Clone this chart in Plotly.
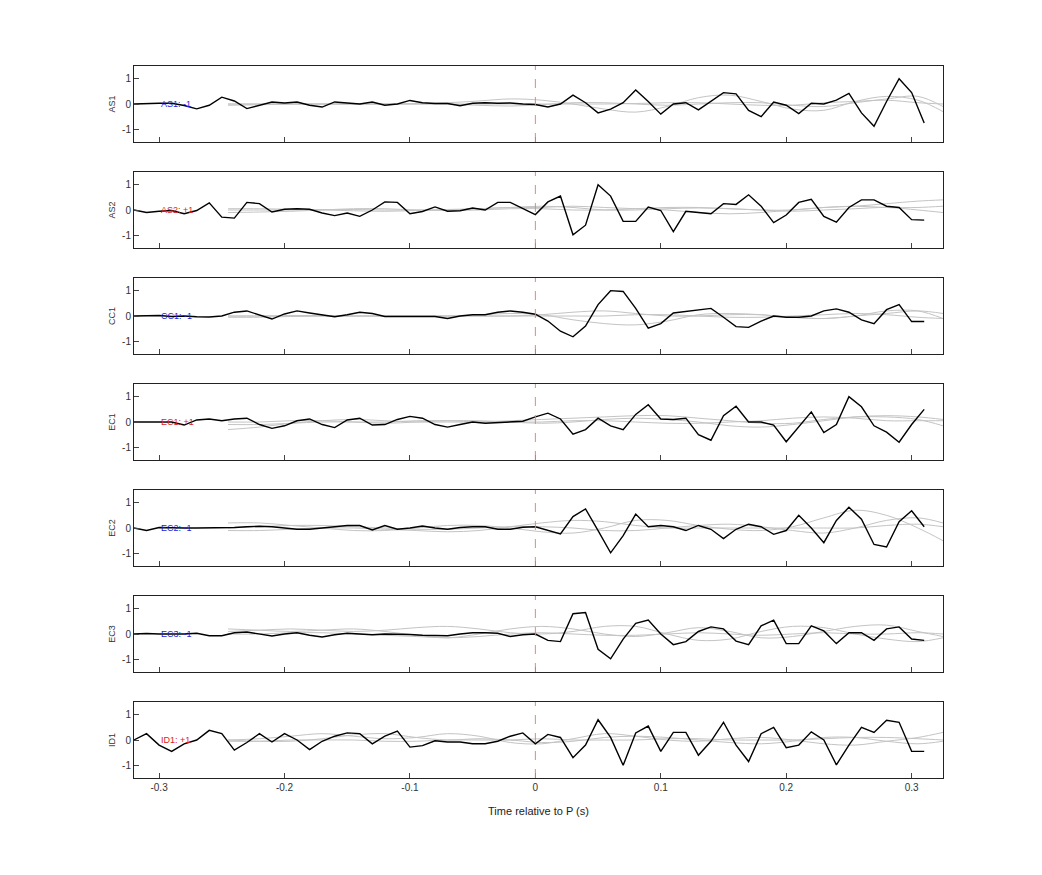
import plotly.graph_objects as go
from plotly.subplots import make_subplots

# time axis for the black traces (s)
t = [round(-0.32 + 0.01 * i, 2) for i in range(64)]

stations = ["AS1", "AS2", "CC1", "EC1", "EC2", "EC3", "ID1"]
polarity = ["-1", "+1", "-1", "+1", "-1", "-1", "+1"]

xticks = [-0.3, -0.2, -0.1, 0, 0.1, 0.2, 0.3]
xticklabels = ["-0.3", "-0.2", "-0.1", "0", "0.1", "0.2", "0.3"]
yticks = [-1, 0, 1]
yticklabels = ["-1", "0", "1"]

as1 = [0.0, 0.02, 0.03, 0.03, -0.06, -0.19, -0.05, 0.27, 0.12, -0.18, -0.05, 0.08, 0.04, 0.08, -0.05, -0.12,
       0.08, 0.03, 0.0, 0.08, -0.05, 0.0, 0.14, 0.05, 0.02, 0.02, -0.07, 0.03, 0.05, 0.03, 0.04, 0.0,
       -0.02, -0.12, 0.0, 0.35, 0.05, -0.35, -0.2, 0.05, 0.55, 0.1, -0.4, 0.0, 0.05, -0.23, 0.1, 0.45,
       0.4, -0.25, -0.5, 0.08, -0.05, -0.38, 0.03, 0.0, 0.15, 0.42, -0.35, -0.88, 0.1, 1.0, 0.45, -0.75]
as2 = [0.0, -0.1, -0.05, -0.02, -0.15, -0.02, 0.28, -0.28, -0.32, 0.3, 0.25, -0.08, 0.03, 0.05, 0.03, -0.12,
       -0.22, -0.12, -0.25, 0.0, 0.32, 0.3, -0.15, -0.06, 0.12, -0.05, -0.03, 0.08, 0.0, 0.3, 0.3, 0.05,
       -0.18, 0.32, 0.55, -0.98, -0.6, 1.0, 0.55, -0.45, -0.45, 0.12, -0.02, -0.85, -0.05, -0.1, -0.15, 0.25,
       0.22, 0.6, 0.15, -0.5, -0.2, 0.3, 0.42, -0.25, -0.48, 0.1, 0.4, 0.4, 0.15, 0.1, -0.38, -0.4]
cc1 = [0.0, 0.0, 0.02, -0.02, 0.0, -0.03, -0.04, 0.0, 0.15, 0.2, 0.05, -0.12, 0.08, 0.2, 0.12, 0.03,
       -0.03, 0.05, 0.15, 0.1, -0.02, -0.02, -0.02, 0.0, -0.02, -0.1, 0.0, 0.05, 0.05, 0.15, 0.2, 0.15,
       0.07, -0.2, -0.6, -0.82, -0.4, 0.45, 1.0, 0.97, 0.3, -0.48, -0.3, 0.12, 0.18, 0.23, 0.3, -0.05,
       -0.42, -0.45, -0.2, 0.0, -0.05, -0.05, 0.0, 0.2, 0.28, 0.15, -0.15, -0.3, 0.25, 0.45, -0.22, -0.22]
ec1 = [0.0, 0.0, 0.02, 0.0, -0.12, 0.08, 0.12, 0.05, 0.12, 0.15, -0.1, -0.25, -0.15, 0.05, 0.12, -0.1,
       -0.22, 0.08, 0.15, -0.12, -0.1, 0.1, 0.22, 0.15, -0.1, -0.2, -0.1, 0.0, -0.05, -0.03, 0.0, 0.03,
       0.2, 0.35, 0.12, -0.48, -0.3, 0.15, -0.15, -0.3, 0.3, 0.68, 0.12, 0.1, 0.15, -0.5, -0.72, 0.25,
       0.62, 0.0, 0.0, -0.12, -0.78, -0.2, 0.4, -0.42, -0.1, 1.0, 0.6, -0.15, -0.4, -0.8, -0.1, 0.5]
ec2 = [0.0, -0.1, 0.02, 0.0, 0.0, 0.0, 0.0, 0.0, 0.02, 0.05, 0.07, 0.05, 0.0, -0.05, -0.05, 0.0,
       0.07, 0.1, 0.1, -0.08, 0.1, -0.05, 0.0, 0.08, 0.0, -0.05, 0.02, 0.05, 0.05, -0.05, -0.05, 0.03,
       0.05, -0.1, -0.23, 0.45, 0.75, -0.1, -0.98, -0.3, 0.55, 0.05, 0.1, 0.05, -0.1, 0.1, -0.05, -0.42,
       -0.05, 0.15, 0.05, -0.25, -0.1, 0.5, 0.0, -0.58, 0.3, 0.82, 0.35, -0.65, -0.75, 0.25, 0.68, 0.05]
ec3 = [0.0, 0.02, 0.0, 0.0, 0.0, 0.03, -0.07, -0.07, 0.05, 0.08, 0.0, -0.08, 0.0, 0.05, -0.05, -0.12,
       -0.03, 0.03, 0.0, -0.03, 0.0, 0.0, -0.02, -0.05, -0.05, -0.07, 0.0, 0.05, 0.05, 0.03, -0.1, -0.03,
       0.0, -0.25, -0.3, 0.8, 0.85, -0.6, -0.98, -0.2, 0.42, 0.55, 0.0, -0.42, -0.3, 0.1, 0.28, 0.2,
       -0.28, -0.42, 0.32, 0.55, -0.38, -0.38, 0.32, 0.12, -0.38, 0.05, 0.05, -0.25, 0.2, 0.28, -0.2, -0.25]
id1 = [0.0, 0.25, -0.2, -0.45, -0.15, 0.0, 0.38, 0.25, -0.4, -0.1, 0.25, -0.08, 0.25, 0.0, -0.38, -0.05,
       0.15, 0.28, 0.25, -0.15, 0.15, 0.35, -0.28, -0.22, -0.03, -0.08, -0.08, -0.15, -0.15, -0.05, 0.15, 0.28,
       -0.15, 0.22, 0.1, -0.7, -0.2, 0.8, 0.1, -1.0, 0.28, 0.55, -0.45, 0.3, 0.3, -0.6, -0.05, 0.7,
       -0.2, -0.85, 0.25, 0.5, -0.3, -0.2, 0.32, 0.0, -0.98, -0.2, 0.5, 0.3, 0.78, 0.7, -0.45, -0.45]
black = [as1, as2, cc1, ec1, ec2, ec3, id1]

# smooth grey synthetics, sampled every 0.025 s
tg = [round(-0.245 + 0.025 * i, 3) for i in range(23)] + [0.325]
grey = [
    [[0.0, 0.0, 0.0, 0.0, 0.0, 0.0, 0.02, 0.05, 0.12, 0.2, 0.15, 0.0, -0.2, -0.32, -0.1, 0.25, 0.35, 0.1, -0.2, -0.25, 0.1, 0.3, 0.15, -0.3, 0.5],
     [0.0, 0.0, 0.0, 0.0, 0.0, 0.0, 0.0, 0.0, -0.05, -0.08, -0.03, 0.05, 0.05, 0.0, -0.05, 0.0, 0.05, 0.05, -0.05, -0.1, 0.05, 0.2, 0.3, -0.1, 0.1],
     [-0.05, -0.03, 0.0, 0.0, 0.0, 0.0, 0.0, 0.0, 0.0, 0.0, 0.0, 0.0, 0.0, 0.02, 0.05, 0.05, 0.0, -0.05, -0.05, 0.05, 0.1, 0.15, 0.05, 0.0, 0.05]],
    [[-0.1, -0.08, -0.05, 0.0, 0.05, 0.05, 0.0, 0.0, 0.05, 0.1, 0.1, 0.15, 0.1, 0.05, 0.0, -0.1, -0.15, -0.1, 0.0, 0.1, 0.15, 0.25, 0.35, 0.4, 0.4],
     [0.0, 0.0, 0.0, 0.02, 0.02, 0.0, 0.0, -0.02, 0.0, 0.05, 0.05, 0.0, 0.0, 0.05, 0.1, 0.1, 0.05, 0.0, -0.05, 0.0, 0.05, 0.1, 0.0, -0.1, -0.2],
     [0.05, 0.05, 0.03, 0.0, -0.03, -0.05, -0.02, 0.02, 0.05, 0.1, 0.15, 0.1, 0.0, 0.0, 0.05, 0.08, 0.05, 0.0, 0.0, 0.1, 0.15, 0.1, 0.1, 0.15, 0.1]],
    [[0.0, 0.0, 0.0, 0.0, 0.0, 0.0, 0.0, 0.0, 0.05, 0.1, 0.05, -0.15, -0.3, -0.35, -0.2, 0.05, 0.1, 0.05, -0.05, -0.1, 0.0, 0.2, 0.2, -0.1, -0.3],
     [0.0, 0.0, 0.02, 0.02, 0.0, 0.0, 0.0, 0.0, 0.0, 0.0, 0.05, 0.15, 0.2, 0.1, 0.0, 0.0, 0.05, 0.05, -0.05, -0.1, 0.0, 0.1, 0.2, 0.1, 0.5],
     [-0.05, -0.05, -0.02, 0.0, 0.0, 0.0, 0.0, 0.0, 0.0, 0.0, 0.0, 0.0, 0.0, 0.05, 0.05, 0.0, -0.05, -0.05, 0.0, 0.05, 0.1, 0.05, -0.05, -0.1, 0.05]],
    [[-0.3, -0.2, -0.05, 0.05, 0.1, 0.05, 0.0, 0.0, 0.0, 0.05, 0.1, 0.15, 0.2, 0.25, 0.25, 0.15, 0.05, -0.05, -0.05, 0.1, 0.2, 0.2, 0.1, -0.15, -0.3],
     [0.0, 0.0, 0.05, 0.05, 0.0, -0.05, 0.0, 0.05, 0.05, 0.0, -0.05, 0.0, 0.1, 0.15, 0.1, 0.0, -0.15, -0.2, -0.1, 0.05, 0.2, 0.25, 0.2, 0.1, 0.0],
     [-0.1, -0.1, -0.05, 0.0, 0.0, 0.0, 0.05, 0.05, 0.0, 0.0, 0.0, 0.05, 0.05, 0.0, -0.05, -0.05, 0.0, 0.05, 0.15, 0.2, 0.15, 0.05, 0.05, 0.05, 0.05]],
    [[0.2, 0.2, 0.1, 0.0, -0.1, -0.1, 0.0, 0.1, 0.1, 0.0, -0.15, -0.2, 0.0, 0.3, 0.3, 0.1, -0.05, -0.1, 0.05, 0.4, 0.7, 0.5, 0.0, -0.5, -0.55],
     [0.0, 0.05, 0.1, 0.1, 0.05, 0.0, -0.05, -0.05, 0.0, 0.05, 0.05, 0.0, -0.1, -0.1, 0.0, 0.1, 0.15, 0.05, -0.1, -0.2, 0.0, 0.3, 0.4, 0.2, -0.1],
     [-0.1, -0.1, -0.05, 0.0, 0.0, -0.05, -0.1, -0.15, -0.1, 0.05, 0.2, 0.3, 0.25, 0.1, 0.0, 0.0, 0.0, 0.0, 0.0, 0.0, 0.0, 0.1, 0.15, 0.05, 0.0]],
    [[0.2, 0.15, 0.1, 0.15, 0.2, 0.1, -0.05, -0.15, 0.0, 0.2, 0.3, 0.2, 0.0, -0.1, 0.05, 0.25, 0.1, -0.15, -0.1, 0.1, 0.3, 0.35, 0.1, -0.1, -0.1],
     [0.1, 0.15, 0.2, 0.15, 0.1, 0.15, 0.25, 0.3, 0.2, 0.05, 0.0, 0.1, 0.3, 0.3, 0.0, -0.25, -0.2, 0.1, 0.3, 0.25, 0.0, -0.2, -0.3, -0.15, 0.0],
     [0.0, 0.0, 0.05, 0.05, 0.0, -0.05, -0.1, -0.15, -0.1, 0.0, 0.05, 0.0, -0.05, -0.05, 0.0, 0.05, 0.0, -0.05, 0.0, 0.05, 0.0, 0.0, 0.05, 0.0, 0.05]],
    [[0.0, 0.05, 0.15, 0.25, 0.15, 0.05, 0.1, 0.25, 0.15, -0.1, -0.15, 0.05, 0.25, 0.15, 0.0, -0.05, 0.05, 0.1, 0.0, -0.15, -0.2, -0.05, 0.1, 0.3, 0.2],
     [0.0, -0.05, -0.05, 0.05, 0.2, 0.25, 0.1, 0.0, 0.05, 0.0, -0.1, -0.05, 0.1, 0.15, 0.1, 0.0, -0.1, -0.15, -0.05, 0.1, 0.1, -0.05, -0.15, -0.05, 0.1],
     [-0.05, -0.05, 0.0, 0.0, 0.0, -0.05, -0.05, 0.0, 0.0, 0.0, 0.05, 0.0, 0.0, 0.0, 0.05, 0.05, 0.0, 0.0, 0.0, 0.05, 0.1, 0.1, 0.05, 0.0, 0.0]],
]

fig = make_subplots(rows=7, cols=1, shared_xaxes=True, vertical_spacing=30 / 712)

for r, name in enumerate(stations, start=1):
    for g in grey[r - 1]:
        fig.add_trace(go.Scatter(x=tg, y=g, mode="lines", line=dict(color="#c4c4c4", width=1, shape="spline"),
                                 showlegend=False, hoverinfo="skip"), row=r, col=1)
    fig.add_trace(go.Scatter(x=t, y=black[r - 1], mode="lines", line=dict(color="black", width=1.4),
                             showlegend=False, name=name), row=r, col=1)
    fig.add_vline(x=0, line=dict(color="#f08080", width=1, dash="dash"), row=r, col=1)
    colour = "#2222dd" if polarity[r - 1] == "-1" else "#dd2222"
    fig.add_annotation(x=-0.3, y=0, text=f"{name}: {polarity[r - 1]}", showarrow=False, xanchor="left",
                       font=dict(size=9, color=colour), row=r, col=1)
    fig.update_yaxes(title_text=name, title_font=dict(size=9, color="#333"), title_standoff=4,
                     range=[-1.5, 1.5], tickvals=yticks, ticktext=yticklabels, row=r, col=1)

fig.update_xaxes(range=[-0.32, 0.325], tickvals=xticks, ticktext=xticklabels,
                 showline=True, mirror=True, linecolor="#222", ticks="inside", ticklen=5,
                 showgrid=False, zeroline=False, tickfont=dict(size=10, color="#333"))
fig.update_yaxes(showline=True, mirror=True, linecolor="#222", ticks="inside", ticklen=5,
                 showgrid=False, zeroline=False, tickfont=dict(size=10, color="#333"))
fig.update_xaxes(title_text="Time relative to P (s)", title_font=dict(size=11, color="#222"), row=7, col=1)

fig.update_layout(width=1042, height=875, margin=dict(l=126, r=107, t=58, b=105),
                  plot_bgcolor="white", paper_bgcolor="white",
                  font=dict(family="Liberation Sans, Arial, sans-serif"))
fig.write_html("out.html")
